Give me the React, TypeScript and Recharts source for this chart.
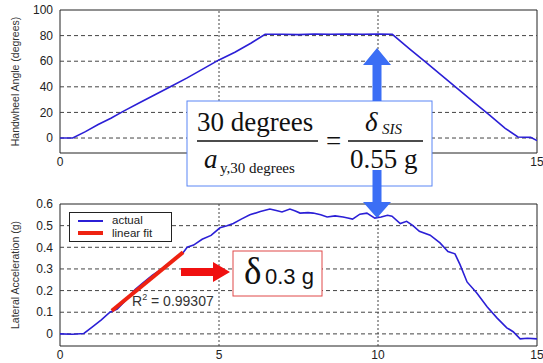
import { LineChart, Line, XAxis, YAxis, ReferenceLine, ReferenceArea, Legend } from "recharts";

const SANS = "'Liberation Sans', Arial, sans-serif";
const SERIF = "'Liberation Serif', 'Times New Roman', serif";
const TRACE = "#2b1fd6";
const FIT = "#ee2211";
const ARROW_BLUE = "#3b6ef5";
const GRID = "#444";

// handwheel angle trace (s, deg)
const angleTime = [0, 0.4, 0.8, 1.2, 1.6, 2, 2.5, 3, 3.5, 4, 4.5, 5, 5.5, 6, 6.45, 7, 7.5, 8, 8.5, 9, 9.5, 10, 10.45, 11, 11.5, 12, 12.5, 13, 13.5, 14, 14.4, 14.8, 15];
const angleDeg = [0, 0, 5, 10.5, 15.5, 21, 27.5, 34, 40.5, 47, 54, 61, 67, 74, 81, 81, 80.8, 81.2, 81, 81.3, 81, 81.2, 81, 69.5, 59.3, 49, 38.6, 28.2, 18, 7.6, 0.8, 0.5, -2];

// lateral acceleration trace (s, g)
const accelTime = [0, 0.4, 0.75, 1.0, 1.3, 1.57, 1.8, 2.1, 2.36, 2.6, 2.9, 3.2, 3.5, 3.87, 4.0, 4.2, 4.47, 4.75, 5.03, 5.25, 5.45, 5.7, 5.97, 6.3, 6.6, 6.8, 6.98, 7.23, 7.4, 7.55, 7.8, 7.96, 8.2, 8.4, 8.65, 8.9, 9.05, 9.2, 9.43, 9.65, 9.9, 10.1, 10.3, 10.44, 10.7, 10.9, 11.1, 11.3, 11.64, 11.95, 12.2, 12.42, 12.58, 12.8, 13.1, 13.43, 13.74, 14.05, 14.25, 14.47, 14.7, 15];
const accelG = [0, -0.002, 0.002, 0.03, 0.065, 0.1, 0.115, 0.16, 0.205, 0.235, 0.27, 0.3, 0.335, 0.375, 0.4, 0.41, 0.437, 0.455, 0.49, 0.5, 0.51, 0.53, 0.55, 0.565, 0.577, 0.57, 0.563, 0.577, 0.568, 0.558, 0.56, 0.558, 0.55, 0.54, 0.545, 0.54, 0.535, 0.53, 0.553, 0.558, 0.535, 0.54, 0.548, 0.544, 0.51, 0.52, 0.5, 0.474, 0.456, 0.42, 0.38, 0.37, 0.32, 0.24, 0.19, 0.125, 0.074, 0.028, 0.01, -0.023, -0.02, -0.023];

// linear fit segment
const fitTime = [1.63, 3.87];
const fitG = [0.107, 0.377];

const timeTicks = [0, 5, 10, 15];
const angleTicks = [0, 20, 40, 60, 80, 100];
const accelTicks = [0, 0.1, 0.2, 0.3, 0.4, 0.5, 0.6];
// the formula box sits over the middle time labels of the top plot
const hiddenTopTimeTicks = [5, 10];

const angleRows = angleTime.map((t, i) => ({ t, v: angleDeg[i] }));
const accelRows = accelTime.map((t, i) => ({ t, v: accelG[i] }));
const fitRows = fitTime.map((t, i) => ({ t, v: fitG[i] }));

const ANGLE_DOMAIN: [number, number] = [-11.7, 100];
const ACCEL_DOMAIN: [number, number] = [-0.056, 0.6];

const tickStyle = { fill: "#222", fontSize: 12, fontFamily: SANS };

function FitLegend() {
    const row = { position: "absolute" as const, left: 42, lineHeight: "12px" };
    return (
        <div
            style={{
                position: "relative",
                width: 101,
                height: 28,
                border: "1px solid #222",
                background: "#fff",
                fontFamily: SANS,
                fontSize: 11.5,
                color: "#222",
            }}
        >
            <div style={{ position: "absolute", left: 8, top: 7, width: 25, height: 1.5, background: TRACE }} />
            <div style={{ ...row, top: 1 }}>actual</div>
            <div style={{ position: "absolute", left: 8, top: 18, width: 25, height: 4, background: FIT }} />
            <div style={{ ...row, top: 14 }}>linear fit</div>
        </div>
    );
}

function gridLines(hTicks: number[], vTicks: number[]) {
    return [
        ...hTicks.map((y) => (
            <ReferenceLine key={`h-${y}`} y={y} stroke={GRID} strokeDasharray="4 3" strokeWidth={1} />
        )),
        ...vTicks.map((x) => (
            <ReferenceLine key={`v-${x}`} x={x} stroke={GRID} strokeDasharray="2 2" strokeWidth={1} />
        )),
    ];
}

function Overlay() {
    return (
        <svg width={543} height={363} style={{ position: "absolute", left: 0, top: 0, pointerEvents: "none" }}>
            {/* R^2 note */}
            <text x={132} y={306} fontFamily={SANS} fontSize={14} fill="#333">
                R<tspan fontSize={9} dy={-6}>2</tspan>
                <tspan dy={6}> = 0.99307</tspan>
            </text>

            {/* red arrow + delta box */}
            <polygon points="181,268 213,268 213,262 230,272 213,282 213,276 181,276" fill="#f01010" />
            <rect x={233} y={251} width={89} height={45} fill="#fff" stroke="#e04848" strokeWidth={1} />
            <text x={244} y={284} fontFamily={SERIF} fontSize={37} fill="#111">δ</text>
            <text x={265} y={284} fontFamily={SANS} fontSize={22} fill="#111">0.3 g</text>

            {/* formula box */}
            <rect x={187} y={101} width={245} height={85} fill="#fff" stroke="#5a86f5" strokeWidth={1} />
            <g fontFamily={SERIF} fill="#111">
                <text x={197} y={131} fontSize={27}>30 degrees</text>
                <line x1={197} x2={318} y1={141} y2={141} stroke="#111" strokeWidth={1.5} />
                <text x={204} y={168} fontSize={27} fontStyle="italic">a</text>
                <text x={220} y={173} fontSize={15}>y,30 degrees</text>
                <text x={326} y={150} fontSize={27}>=</text>
                <text x={365} y={131} fontSize={27} fontStyle="italic">δ</text>
                <text x={382} y={134} fontSize={15} fontStyle="italic">SIS</text>
                <line x1={348} x2={423} y1={141} y2={141} stroke="#111" strokeWidth={1.5} />
                <text x={350} y={168} fontSize={27}>0.55 g</text>
            </g>

            {/* blue arrows */}
            <polygon points="372.5,101 372.5,65 363,65 377,48 391,65 381.5,65 381.5,101" fill={ARROW_BLUE} />
            <polygon points="372.5,170 381.5,170 381.5,202 391,202 377,218 363,202 372.5,202" fill={ARROW_BLUE} />
        </svg>
    );
}

export default function App() {
    return (
        <div style={{ position: "absolute", left: 0, top: 0, width: 543, height: 363, background: "#fff", overflow: "hidden" }}>
            <div style={{ position: "absolute", left: 0, top: 0 }}>
                <LineChart width={543} height={175} margin={{ top: 10, right: 6, bottom: 0, left: 0 }}>
                    <XAxis
                        type="number"
                        dataKey="t"
                        domain={[0, 15]}
                        ticks={timeTicks}
                        interval={0}
                        height={22}
                        axisLine={false}
                        tickLine={false}
                        tickSize={0}
                        tickMargin={4}
                        tick={tickStyle}
                        tickFormatter={(v: number) => (hiddenTopTimeTicks.includes(v) ? "" : String(v))}
                        allowDataOverflow
                    />
                    <YAxis
                        type="number"
                        domain={ANGLE_DOMAIN}
                        ticks={angleTicks}
                        interval={0}
                        width={60}
                        axisLine={false}
                        tickLine={false}
                        tickSize={0}
                        tickMargin={7}
                        tick={tickStyle}
                        allowDataOverflow
                        label={{
                            value: "Handwheel Angle (degrees)",
                            angle: -90,
                            position: "insideLeft",
                            offset: 15,
                            style: { textAnchor: "middle", fontFamily: SANS, fontSize: 10.5, fill: "#333" },
                        }}
                    />
                    {gridLines(angleTicks.slice(0, -1), [5, 10])}
                    <ReferenceArea x1={0} x2={15} y1={ANGLE_DOMAIN[0]} y2={ANGLE_DOMAIN[1]} fill="none" stroke="#222" strokeWidth={1} />
                    <Line data={angleRows} dataKey="v" type="linear" stroke={TRACE} strokeWidth={1.6} dot={false} isAnimationActive={false} />
                </LineChart>
            </div>

            <div style={{ position: "absolute", left: 0, top: 190 }}>
                <LineChart width={543} height={173} margin={{ top: 14, right: 6, bottom: 0, left: 0 }}>
                    <XAxis
                        type="number"
                        dataKey="t"
                        domain={[0, 15]}
                        ticks={timeTicks}
                        interval={0}
                        height={17}
                        axisLine={false}
                        tickLine={false}
                        tickSize={0}
                        tickMargin={4}
                        tick={tickStyle}
                        allowDataOverflow
                    />
                    <YAxis
                        type="number"
                        domain={ACCEL_DOMAIN}
                        ticks={accelTicks}
                        interval={0}
                        width={60}
                        axisLine={false}
                        tickLine={false}
                        tickSize={0}
                        tickMargin={7}
                        tick={tickStyle}
                        tickFormatter={(v: number) => (v === 0 ? "0" : v.toFixed(1))}
                        allowDataOverflow
                        label={{
                            value: "Lateral Acceleration (g)",
                            angle: -90,
                            position: "insideLeft",
                            offset: 15,
                            style: { textAnchor: "middle", fontFamily: SANS, fontSize: 10.5, fill: "#333" },
                        }}
                    />
                    {gridLines(accelTicks.slice(0, -1), [5, 10])}
                    <ReferenceArea x1={0} x2={15} y1={ACCEL_DOMAIN[0]} y2={ACCEL_DOMAIN[1]} fill="none" stroke="#222" strokeWidth={1} />
                    <Line data={accelRows} dataKey="v" name="actual" type="linear" stroke={TRACE} strokeWidth={1.6} dot={false} isAnimationActive={false} />
                    <Line data={fitRows} dataKey="v" name="linear fit" type="linear" stroke={FIT} strokeWidth={4} dot={false} isAnimationActive={false} />
                    <Legend
                        layout="vertical"
                        align="center"
                        verticalAlign="middle"
                        content={() => <FitLegend />}
                        wrapperStyle={{ left: 69, top: 22, width: 103, height: 30 }}
                    />
                </LineChart>
            </div>

            <Overlay />
        </div>
    );
}
